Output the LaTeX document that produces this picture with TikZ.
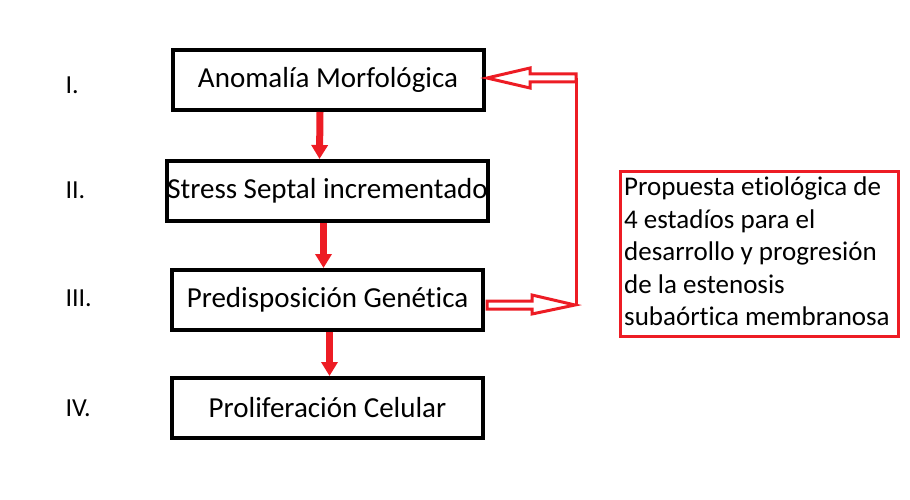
\documentclass[tikz,border=0pt]{standalone}
\usepackage{fontspec}
\usetikzlibrary{arrows.meta}
\setmainfont[Ligatures={NoCommon}]{Carlito}
\begin{document}
\begin{tikzpicture}[x=1pt,y=-1pt,
  box/.style={draw=black,line width=4pt,minimum width=311pt,minimum height=60pt,inner sep=0pt,font=\fontsize{29}{34}\selectfont},
  lbl/.style={font=\fontsize{26}{30}\selectfont,anchor=west},
  rd/.style={line width=3pt,line join=miter},
  down/.style={line width=7pt,-{Triangle[length=14pt,width=16pt]}}]
\useasboundingbox (0,0) rectangle (910,500);
\definecolor{rc}{RGB}{237,28,36}
\node[box] (a) at (328,80) {Anomalía Morfológica};
\node[box] (b) at (327.5,191) {Stress Septal incrementado};
\node[box] (c) at (327.5,300) {Predisposición Genética};
\node[box] (d) at (327.5,408) {Proliferación Celular};
\node[lbl] (l1) at (62,85) {I.};
\node[lbl] (l2) at (62,190) {II.};
\node[lbl] (l3) at (62,298) {III.};
\node[lbl] (l4) at (62,408) {IV.};
\node[draw=rc,line width=3pt,minimum width=278pt,minimum height=165pt,anchor=north west,inner sep=0pt] (r) at (619,170) {};
\node[anchor=north west,align=left,font=\fontsize{27}{32.5}\selectfont,inner sep=0pt] (rt) at (624,177) {Propuesta etiológica de\\4 estadíos para el\\desarrollo y progresión\\de la estenosis\\subaórtica membranosa};
\draw[down,draw=rc,fill=rc] ([xshift=-8pt]a.south) -- ([xshift=-8pt]b.north);
\draw[down,draw=rc,fill=rc] ([xshift=-4pt]b.south) -- ([xshift=-4pt]c.north);
\draw[down,draw=rc,fill=rc] ([xshift=2pt]c.south) -- ([xshift=2pt]d.north);
\coordinate (t) at (576,78);
\coordinate (bt) at (576,305);
\draw[rd,draw=rc] (576,74) -- (530,74) -- (530,68) -- (487,78) -- (530,88) -- (530,82) -- (576,82) -- cycle;
\draw[rd,draw=rc] (487,301) -- (532,301) -- (532,295) -- (575,305) -- (532,314) -- (532,309) -- (487,309) -- cycle;
\draw[rd,draw=rc] (t) -- (bt);
\end{tikzpicture}
\end{document}
